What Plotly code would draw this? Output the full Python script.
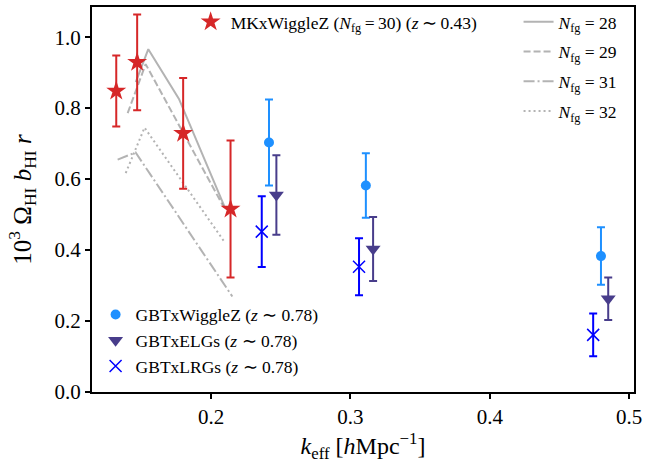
import plotly.graph_objects as go

# --- data ---
mk_k = [0.132, 0.147, 0.180, 0.214]
mk_v = [0.848, 0.929, 0.729, 0.516]
mk_err = [0.100, 0.135, 0.156, 0.193]

wz_k = [0.2416, 0.3111, 0.4798]
wz_v = [0.703, 0.582, 0.383]
wz_err = [0.121, 0.091, 0.081]

elg_k = [0.2469, 0.3163, 0.4850]
elg_v = [0.555, 0.403, 0.263]
elg_err = [0.112, 0.090, 0.060]

lrg_k = [0.2364, 0.3062, 0.4742]
lrg_v = [0.452, 0.353, 0.161]
lrg_err = [0.100, 0.080, 0.060]

n28_k = [0.146, 0.155, 0.177, 0.2096]
n28_v = [0.873, 0.966, 0.826, 0.523]
n29_k = [0.1402, 0.1531, 0.2093]
n29_v = [0.786, 0.924, 0.520]
n31_k = [0.1330, 0.1459, 0.2153]
n31_v = [0.655, 0.675, 0.269]
n32_k = [0.1388, 0.1523, 0.2093]
n32_v = [0.617, 0.745, 0.425]

FONT = "Liberation Serif"
gray = "rgba(128,128,128,0.6)"

fig = go.Figure()

def line(k, v, dash, name, grp):
    fig.add_trace(go.Scatter(x=k, y=v, mode="lines", name=name,
                             line=dict(color=gray, width=2, dash=dash),
                             legend="legend2", legendgroup=grp, showlegend=True))

line(n28_k, n28_v, "solid", "<i>N</i><sub>fg</sub> = 28", "g28")
line(n29_k, n29_v, "7px,3px", "<i>N</i><sub>fg</sub> = 29", "g29")
line(n31_k, n31_v, "11px,3px,2px,3px", "<i>N</i><sub>fg</sub> = 31", "g31")
line(n32_k, n32_v, "2px,3px", "<i>N</i><sub>fg</sub> = 32", "g32")

def pts(k, v, e, color, symbol, size, name, legend, lw=0):
    fig.add_trace(go.Scatter(
        x=k, y=v, mode="markers", name=name, legend=legend, showlegend=True,
        marker=dict(color=color, symbol=symbol, size=size,
                    line=dict(color=color, width=lw)),
        error_y=dict(type="data", array=e, visible=True, color=color,
                     thickness=2, width=4)))

pts(mk_k, mk_v, mk_err, "#d62728", "star", 15,
    "MKxWiggleZ (<i>N</i><sub>fg</sub>\u2009=\u200930) (<i>z</i>\u2009∼\u20090.43)", "legend")
pts(wz_k, wz_v, wz_err, "#1e90ff", "circle", 10,
    "GBTxWiggleZ (<i>z</i> ∼ 0.78)", "legend3")
pts(elg_k, elg_v, elg_err, "#483d8b", "triangle-down", 13,
    "GBTxELGs (<i>z</i> ∼ 0.78)", "legend3")
pts(lrg_k, lrg_v, lrg_err, "#0000ff", "x-thin", 12,
    "GBTxLRGs (<i>z</i> ∼ 0.78)", "legend3", lw=1.5)

axis_common = dict(showline=True, linecolor="black", linewidth=2, mirror=True,
                   ticks="outside", ticklen=5, tickwidth=2, tickcolor="black",
                   showgrid=False, zeroline=False, automargin=False,
                   tickfont=dict(family=FONT, size=21, color="black"))

fig.update_layout(
    width=670, height=468,
    margin=dict(l=92, r=36, t=4, b=76),
    plot_bgcolor="white", paper_bgcolor="white",
    showlegend=True,
    font=dict(family=FONT, color="black"),
    xaxis=dict(range=[0.1146, 0.5035], tickvals=[0.2, 0.3, 0.4, 0.5],
               ticktext=["0.2", "0.3", "0.4", "0.5"],
               title=dict(text="<i>k</i><sub>eff</sub> [<i>h</i>Mpc<sup>−1</sup>]",
                          font=dict(family=FONT, size=24), standoff=0),
               **axis_common),
    yaxis=dict(range=[0, 1.085], tickvals=[0, 0.2, 0.4, 0.6, 0.8, 1.0],
               ticktext=["0.0", "0.2", "0.4", "0.6", "0.8", "1.0"],
               title=dict(text="10<sup>3</sup> Ω<sub>HI</sub> <i>b</i><sub>HI</sub> <i>r</i>",
                          font=dict(family=FONT, size=25), standoff=16),
               **axis_common),
    legend=dict(x=0.182, y=1.008, xanchor="left", yanchor="top",
                bgcolor="rgba(0,0,0,0)", font=dict(family=FONT, size=17.5)),
    legend2=dict(x=0.787, y=1.008, xanchor="left", yanchor="top",
                 bgcolor="rgba(0,0,0,0)", font=dict(family=FONT, size=17.5),
                 tracegroupgap=4),
    legend3=dict(x=0.0066, y=0.019, xanchor="left", yanchor="bottom",
                 bgcolor="rgba(0,0,0,0)", font=dict(family=FONT, size=17.5)),
)

fig.write_html("out.html", config={"displayModeBar": False},
               post_script="document.body.style.margin='0';")
